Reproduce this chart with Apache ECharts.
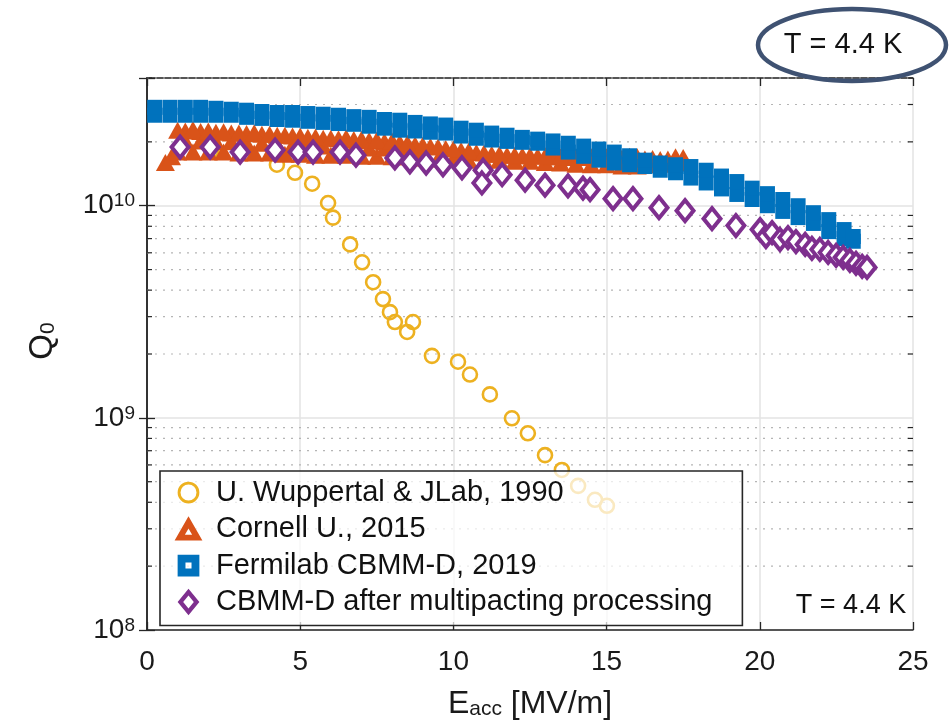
<!DOCTYPE html>
<html>
<head>
<meta charset="utf-8">
<script src="https://cdn.jsdelivr.net/npm/echarts@6/dist/echarts.min.js"></script>
<style>html,body{margin:0;padding:0;background:#fff}#c{width:951px;height:725px}</style>
</head>
<body>
<div id="c"></div>
<script>
// ---------------- data ----------------
const seriesNames = ['U. Wuppertal & JLab, 1990', 'Cornell U., 2015', 'Fermilab CBMM-D, 2019', 'CBMM-D after multipacting processing'];

const xTicks = [0, 5, 10, 15, 20, 25];
const yMajorTicks = [1e8, 1e9, 1e10];
const yMinorTicks = [2e8,3e8,4e8,5e8,6e8,7e8,8e8,9e8, 2e9,3e9,4e9,5e9,6e9,7e9,8e9,9e9, 2e10,3e10,4e10];

const wuppertalE = [2.1, 4.24, 4.83, 5.39, 5.91, 6.07, 6.63, 7.02, 7.38, 7.70, 7.93, 8.09, 8.49, 8.68, 9.30, 10.15, 10.54, 11.19, 11.91, 12.43, 12.99, 13.54, 14.07, 14.62, 15.01];
const wuppertalQ = [1.82e10, 1.56e10, 1.43e10, 1.27e10, 1.03e10, 8.79e9, 6.57e9, 5.41e9, 4.36e9, 3.63e9, 3.15e9, 2.83e9, 2.54e9, 2.83e9, 1.96e9, 1.84e9, 1.60e9, 1.29e9, 9.95e8, 8.46e8, 6.67e8, 5.68e8, 4.78e8, 4.11e8, 3.85e8];

// Cornell: lower sweep, middle sweep, two upper sweeps
const cornellLowE = [0.6, 0.8, 1.0, 1.5, 2.0, 2.5, 3.0, 3.5, 4.0, 4.5, 5.0, 5.5, 6.0, 6.5, 7.0, 7.5, 8.0, 8.5, 9.0, 9.5, 10.0, 10.5, 11.0, 11.5, 12.0, 12.5, 13.0, 13.5, 14.0, 14.5, 15.0, 15.5, 16.0, 16.5, 17.0, 17.5];
const cornellLowQ = [1.60e10, 1.70e10, 1.79e10, 1.79e10, 1.79e10, 1.79e10, 1.77e10, 1.77e10, 1.77e10, 1.75e10, 1.75e10, 1.73e10, 1.73e10, 1.73e10, 1.71e10, 1.71e10, 1.70e10, 1.70e10, 1.68e10, 1.66e10, 1.66e10, 1.64e10, 1.64e10, 1.64e10, 1.62e10, 1.62e10, 1.60e10, 1.59e10, 1.57e10, 1.56e10, 1.56e10, 1.54e10, 1.54e10, 1.56e10, 1.57e10, 1.59e10];
const cornellMidE = [1.25, 1.75, 2.25, 2.75, 3.25, 3.75, 4.25, 4.75, 5.25, 5.75, 6.25, 6.75, 7.25, 7.75, 8.25, 8.75];
const cornellMidQ = [2.02e10, 2.02e10, 2.0e10, 2.0e10, 1.97e10, 1.97e10, 1.95e10, 1.93e10, 1.93e10, 1.91e10, 1.91e10, 1.89e10, 1.87e10, 1.87e10, 1.85e10, 1.83e10];
const cornellHighE = [1.0, 1.5, 2.0, 2.5, 3.0, 3.5, 4.0, 4.5, 5.0, 5.5, 6.0, 6.5, 7.0, 7.5, 8.0, 8.5, 9.0, 9.5, 10.0, 10.5, 11.0, 11.5, 12.0, 12.5, 13.0, 13.5, 14.0, 14.5, 15.0, 15.5, 16.0, 16.5, 17.0, 17.5];
const cornellHighQ = [2.27e10, 2.29e10, 2.25e10, 2.23e10, 2.20e10, 2.21e10, 2.17e10, 2.15e10, 2.13e10, 2.11e10, 2.08e10, 2.09e10, 2.06e10, 2.04e10, 2.02e10, 1.97e10, 1.93e10, 1.89e10, 1.85e10, 1.81e10, 1.77e10, 1.75e10, 1.73e10, 1.72e10, 1.72e10, 1.70e10, 1.70e10, 1.70e10, 1.70e10, 1.68e10, 1.70e10, 1.67e10, 1.66e10, 1.69e10];
const cornellHigh2E = [1.25, 1.75, 2.25, 2.75, 3.25, 3.75, 4.25, 4.75, 5.25, 5.75, 6.25, 6.75, 7.25, 7.75, 8.25, 8.75, 9.25, 9.75, 10.25, 10.75, 11.25, 11.75, 12.25, 12.75, 13.25, 13.75, 14.25, 14.75, 15.25, 15.75, 16.25, 16.75, 17.25];
const cornellHigh2Q = [2.25e10, 2.24e10, 2.22e10, 2.20e10, 2.19e10, 2.17e10, 2.15e10, 2.13e10, 2.10e10, 2.08e10, 2.07e10, 2.05e10, 2.03e10, 2.01e10, 1.98e10, 1.94e10, 1.90e10, 1.86e10, 1.82e10, 1.78e10, 1.75e10, 1.73e10, 1.72e10, 1.71e10, 1.70e10, 1.69e10, 1.69e10, 1.68e10, 1.67e10, 1.71e10, 1.66e10, 1.65e10, 1.70e10];

// Fermilab: lower sweep and upper sweep
const fermiE = [0.25, 0.75, 1.25, 1.75, 2.25, 2.75, 3.25, 3.75, 4.25, 4.75, 5.25, 5.75, 6.25, 6.75, 7.25, 7.75, 8.25, 8.75, 9.25, 9.75, 10.25, 10.75, 11.25, 11.75, 12.25, 12.75, 13.25, 13.75, 14.25, 14.75, 15.25, 15.75, 16.25, 16.75, 17.25, 17.75, 18.25, 18.75, 19.25, 19.75, 20.25, 20.75, 21.25, 21.75, 22.25, 22.75, 23.05];
const fermiLowQ = [2.67e10, 2.67e10, 2.67e10, 2.67e10, 2.67e10, 2.67e10, 2.61e10, 2.58e10, 2.55e10, 2.53e10, 2.50e10, 2.47e10, 2.44e10, 2.42e10, 2.37e10, 2.32e10, 2.27e10, 2.25e10, 2.22e10, 2.20e10, 2.13e10, 2.08e10, 2.04e10, 2.01e10, 1.99e10, 1.97e10, 1.87e10, 1.79e10, 1.71e10, 1.64e10, 1.59e10, 1.56e10, 1.53e10, 1.47e10, 1.43e10, 1.35e10, 1.28e10, 1.20e10, 1.13e10, 1.07e10, 1.00e10, 9.4e9, 8.79e9, 8.25e9, 7.55e9, 7.0e9, 6.8e9];
const fermiHighQ = [2.91e10, 2.91e10, 2.91e10, 2.91e10, 2.88e10, 2.85e10, 2.82e10, 2.78e10, 2.75e10, 2.75e10, 2.72e10, 2.70e10, 2.67e10, 2.63e10, 2.61e10, 2.55e10, 2.53e10, 2.47e10, 2.43e10, 2.40e10, 2.32e10, 2.27e10, 2.20e10, 2.15e10, 2.10e10, 2.06e10, 2.02e10, 1.97e10, 1.91e10, 1.85e10, 1.79e10, 1.72e10, 1.64e10, 1.59e10, 1.56e10, 1.53e10, 1.47e10, 1.38e10, 1.30e10, 1.21e10, 1.14e10, 1.07e10, 1.00e10, 9.27e9, 8.60e9, 7.72e9, 7.16e9];

const cbmmE = [1.08, 2.06, 3.04, 4.18, 4.93, 5.42, 6.30, 6.82, 8.09, 8.58, 9.11, 9.66, 10.28, 10.97, 10.93, 11.59, 12.34, 12.99, 13.74, 14.23, 14.46, 15.21, 15.86, 16.71, 17.56, 18.44, 19.22, 20.01, 20.20, 20.40, 20.66, 20.92, 21.18, 21.48, 21.70, 21.96, 22.23, 22.49, 22.72, 22.94, 23.14, 23.34, 23.50];
const cbmmQ = [1.89e10, 1.89e10, 1.79e10, 1.83e10, 1.79e10, 1.79e10, 1.79e10, 1.73e10, 1.68e10, 1.61e10, 1.59e10, 1.56e10, 1.51e10, 1.47e10, 1.28e10, 1.40e10, 1.32e10, 1.25e10, 1.24e10, 1.21e10, 1.19e10, 1.08e10, 1.08e10, 9.79e9, 9.48e9, 8.69e9, 8.06e9, 7.72e9, 7.16e9, 7.47e9, 6.93e9, 7.08e9, 6.78e9, 6.57e9, 6.29e9, 6.22e9, 6.02e9, 5.83e9, 5.71e9, 5.52e9, 5.35e9, 5.18e9, 5.12e9];

// ---------------- chart ----------------
const FONT = 'Liberation Sans';
const AX = '#262626';
const TXT = '#1a1a1a';
const C_ORANGE = '#EDB120', C_RED = '#D95319', C_BLUE = '#0072BD', C_PURPLE = '#7E2F8E';
const zip = (a, b) => a.map((v, i) => [v, b[i]]);

const chart = echarts.init(document.getElementById('c'), null, {renderer: 'canvas'});

function powLabel(v) {
  const l = Math.log10(v);
  const e = Math.round(l);
  if (Math.abs(l - e) > 1e-6 || !yMajorTicks.some(t => Math.abs(Math.log10(t) - e) < 1e-6)) return '';
  return '{b|10}{s|' + e + '}';
}

const yAxisCommon = {
  type: 'log', logBase: 10, min: 1e8, max: 4e10,
  axisLine: {show: true, lineStyle: {color: AX, width: 1.5}},
  axisTick: {show: true, inside: true, length: 8, lineStyle: {color: AX, width: 1.3}},
  minorTick: {show: false}
};
const xAxisCommon = {
  type: 'value', min: xTicks[0], max: xTicks[xTicks.length - 1], interval: 5,
  axisLine: {show: true, onZero: false, lineStyle: {color: AX, width: 1.5}},
  axisTick: {show: true, inside: true, length: 8, lineStyle: {color: AX, width: 1.3}}
};

// legend icons (paths; tiny corner specks keep every icon on the same 24px frame)
const SPECK = ' M0,0L0.01,0L0,0.01Z M24,24L23.99,24L24,23.99Z';
const ICON_CIRCLE = 'path://M12,3A9,9,0,1,1,11.99,3Z M12,5.4A6.6,6.6,0,1,0,12.01,5.4Z' + SPECK;
const ICON_TRI = 'path://M12,1.5L23.5,21.5L0.5,21.5Z M12,11.5L9,16.8L15,16.8Z' + SPECK;
const ICON_SQ = 'path://M3,3H21V21H3Z M9.5,9.5V14.5H14.5V9.5Z' + SPECK;
const ICON_DIA = 'path://M12,1L21,12L12,23L3,12Z M12,6.6L7.6,12L12,17.4L16.4,12Z' + SPECK;

const option = {
  animation: false,
  backgroundColor: '#ffffff',
  textStyle: {fontFamily: FONT},
  grid: {left: 147, right: 38, top: 78, bottom: 92, containLabel: false},
  xAxis: [
    Object.assign({}, xAxisCommon, {
      position: 'bottom',
      axisLabel: {show: true, color: TXT, fontSize: 28, fontFamily: FONT, margin: 18},
      splitLine: {show: true, lineStyle: {color: '#e3e3e3', width: 1.5}},
      name: '{e|E}{sub|acc}{n| [MV/m]}',
      nameLocation: 'middle', nameGap: 46,
      nameTextStyle: {
        color: TXT, fontFamily: FONT,
        rich: {
          e: {fontSize: 32, lineHeight: 44, verticalAlign: 'bottom', fontFamily: FONT, color: TXT},
          sub: {fontSize: 21, lineHeight: 14, verticalAlign: 'bottom', fontFamily: FONT, color: TXT},
          n: {fontSize: 32, lineHeight: 44, verticalAlign: 'bottom', fontFamily: FONT, color: TXT}
        }
      }
    }),
    Object.assign({}, xAxisCommon, {
      position: 'top',
      axisLabel: {show: false},
      splitLine: {show: false}
    })
  ],
  yAxis: [
    Object.assign({}, yAxisCommon, {
      position: 'left',
      axisLabel: {
        show: true, margin: 12, formatter: powLabel, color: TXT,
        rich: {
          b: {fontSize: 28, lineHeight: 28, padding: [15, 0, 0, 0], verticalAlign: 'bottom', fontFamily: FONT, color: TXT},
          s: {fontSize: 19, lineHeight: 22, verticalAlign: 'top', fontFamily: FONT, color: TXT}
        }
      },
      splitLine: {show: true, lineStyle: {color: '#e3e3e3', width: 1.5}},
      name: '{q|Q}{s|0}',
      nameLocation: 'middle', nameGap: 88,
      nameTextStyle: {
        color: TXT, padding: [0, 0, 0, 26],
        rich: {
          q: {fontSize: 33, lineHeight: 40, verticalAlign: 'bottom', fontFamily: FONT, color: TXT},
          s: {fontSize: 21, lineHeight: 18, verticalAlign: 'bottom', fontFamily: FONT, color: TXT}
        }
      }
    }),
    Object.assign({}, yAxisCommon, {
      position: 'right',
      axisLabel: {show: false},
      splitLine: {show: false}
    })
  ],
  legend: {
    orient: 'vertical', left: 160, top: 471,
    itemWidth: 29, itemHeight: 29, itemGap: 7.5,
    selectedMode: false,
    textStyle: {fontFamily: FONT, fontSize: 29, color: '#111', padding: [0, 0, 0, 8], lineHeight: 27},
    backgroundColor: 'rgba(255,255,255,0.72)',
    borderColor: AX, borderWidth: 1.6, borderRadius: 0,
    padding: [7, 30, 9, 14],
    data: [
      {name: seriesNames[0], icon: ICON_CIRCLE, itemStyle: {color: C_ORANGE, borderWidth: 0}},
      {name: seriesNames[1], icon: ICON_TRI, itemStyle: {color: C_RED, borderWidth: 0}},
      {name: seriesNames[2], icon: ICON_SQ, itemStyle: {color: C_BLUE, borderWidth: 0}},
      {name: seriesNames[3], icon: ICON_DIA, itemStyle: {color: C_PURPLE, borderWidth: 0}}
    ]
  },
  graphic: [
    {type: 'ellipse', shape: {cx: 852, cy: 45, rx: 94, ry: 36}, style: {fill: 'none', stroke: '#3f5272', lineWidth: 4.5}, z: 100},
    {type: 'text', x: 843, y: 45, style: {text: 'T = 4.4 K', fontFamily: FONT, fontSize: 29, fill: '#111', align: 'center', verticalAlign: 'middle'}, z: 100},
    {type: 'text', x: 851, y: 606, style: {text: 'T = 4.4 K', fontFamily: FONT, fontSize: 27, fill: '#111', align: 'center', verticalAlign: 'middle'}, z: 100}
  ],
  series: [
    {
      name: 'minor-grid', type: 'custom', silent: true, z: 1,
      xAxisIndex: 0, yAxisIndex: 0,
      data: yMinorTicks.map(v => [xTicks[0], v]),
      renderItem: function (params, api) {
        const cs = params.coordSys;
        const y = api.coord([xTicks[0], api.value(1)])[1];
        return {
          type: 'group',
          children: [
            {type: 'line', shape: {x1: cs.x, y1: y, x2: cs.x + cs.width, y2: y}, style: {stroke: '#b5b5b5', lineWidth: 1.2, lineDash: [2, 6]}},
            {type: 'line', shape: {x1: cs.x, y1: y, x2: cs.x + 5, y2: y}, style: {stroke: AX, lineWidth: 1.2}},
            {type: 'line', shape: {x1: cs.x + cs.width - 5, y1: y, x2: cs.x + cs.width, y2: y}, style: {stroke: AX, lineWidth: 1.2}}
          ]
        };
      }
    },
    {
      name: seriesNames[0], type: 'scatter', z: 2,
      data: zip(wuppertalE, wuppertalQ),
      symbol: 'circle', symbolSize: 14,
      itemStyle: {color: 'rgba(255,255,255,0)', borderColor: C_ORANGE, borderWidth: 2.6, opacity: 1}
    },
    {
      name: seriesNames[1], type: 'scatter', z: 3,
      data: zip(cornellLowE, cornellLowQ).concat(zip(cornellMidE, cornellMidQ), zip(cornellHigh2E, cornellHigh2Q), zip(cornellHighE, cornellHighQ)),
      symbol: 'triangle', symbolSize: [19, 17],
      itemStyle: {color: C_RED, opacity: 1}
    },
    {
      name: seriesNames[2], type: 'scatter', z: 4,
      data: zip(fermiE, fermiLowQ).concat(zip(fermiE, fermiHighQ)),
      symbol: 'rect', symbolSize: 15,
      itemStyle: {color: C_BLUE, opacity: 1}
    },
    {
      name: seriesNames[3], type: 'scatter', z: 5,
      data: zip(cbmmE, cbmmQ),
      symbol: 'diamond', symbolSize: [17, 21],
      itemStyle: {color: '#ffffff', borderColor: C_PURPLE, borderWidth: 4, opacity: 1}
    }
  ]
};

chart.setOption(option);
</script>
</body>
</html>
